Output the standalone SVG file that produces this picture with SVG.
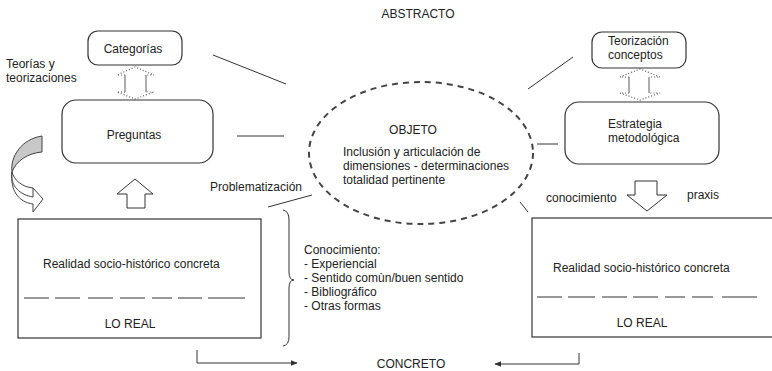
<svg xmlns="http://www.w3.org/2000/svg" width="772" height="371" viewBox="0 0 772 371">
<style>
text{font-family:"Liberation Sans",Arial,sans-serif;font-size:12px;fill:#222}
.c{text-anchor:middle}
.box{fill:#fff;stroke:#333;stroke-width:1.2}
.ln{stroke:#333;stroke-width:1;fill:none}
.dot{stroke:#555;stroke-width:1.2;stroke-dasharray:1 2;fill:none}
.shaft{stroke:#777;stroke-width:1.2;fill:none}
.blk{fill:#fff;stroke:#333;stroke-width:1}
.dash{stroke:#333;stroke-width:1}
</style>
<defs>
<marker id="ah" viewBox="0 0 10 10" refX="9" refY="5" markerWidth="7" markerHeight="7" orient="auto"><path d="M0,1 L10,5 L0,9 Z" fill="#333"/></marker>
</defs>
<rect width="772" height="371" fill="#fff"/>

<text class="c" x="418" y="18">ABSTRACTO</text>
<text class="c" x="411" y="368">CONCRETO</text>

<g id="teorias-label">
<text x="6" y="68">Teorías y</text>
<text x="6" y="82">teorizaciones</text>
</g>

<g id="categorias">
<rect class="box" x="88" y="31" width="94" height="34" rx="10"/>
<text class="c" x="133" y="53">Categorías</text>
</g>

<g id="preguntas">
<rect class="box" x="62" y="100" width="151" height="63" rx="14"/>
<text class="c" x="134" y="139">Preguntas</text>
</g>

<g id="teorizacion">
<rect class="box" x="592" y="32" width="94" height="36" rx="10"/>
<text x="608" y="45">Teorización</text>
<text x="608" y="59">conceptos</text>
</g>

<g id="estrategia">
<rect class="box" x="565" y="102" width="154" height="62" rx="14"/>
<text x="608" y="128">Estrategia</text>
<text x="608" y="142">metodológica</text>
</g>

<g id="objeto">
<ellipse cx="421" cy="153" rx="112" ry="71" fill="#fff" stroke="#444" stroke-width="2" stroke-dasharray="6 5"/>
<text class="c" x="413" y="134">OBJETO</text>
<text x="343" y="156">Inclusión y articulación de</text>
<text x="343" y="170">dimensiones - determinaciones</text>
<text x="343" y="184">totalidad pertinente</text>
</g>

<g id="realidad-izq">
<rect class="box" x="18" y="219" width="243" height="119"/>
<text x="43" y="268">Realidad socio-histórico concreta</text>
<path class="dash" d="M24,298H49M55,298H80M88,298H113M120,298H145M152,298H172M178,298H202M208,298H245"/>
<text class="c" x="130" y="328">LO REAL</text>
</g>

<g id="realidad-der">
<rect class="box" x="532" y="218" width="245" height="119"/>
<text x="553" y="272">Realidad socio-histórico concreta</text>
<path class="dash" d="M537,297H562M568,297H595M602,297H627M633,297H658M665,297H685M692,297H713M722,297H757"/>
<text class="c" x="642" y="327">LO REAL</text>
</g>

<g id="conocimiento-lista">
<text x="304" y="254">Conocimiento:</text>
<text x="304" y="268">- Experiencial</text>
<text x="304" y="282">- Sentido comùn/buen sentido</text>
<text x="304" y="296">- Bibliográfico</text>
<text x="304" y="310">- Otras formas</text>
</g>

<g id="labels">
<text x="210" y="191">Problematización</text>
<text x="546" y="202">conocimiento</text>
<text x="687" y="199">praxis</text>
</g>

<g id="connectors">
<line class="ln" x1="213" y1="55" x2="286" y2="84"/>
<line class="ln" x1="237" y1="136" x2="284" y2="136"/>
<line class="ln" x1="528" y1="89" x2="573" y2="57"/>
<line class="ln" x1="537" y1="144" x2="558" y2="144"/>
<line class="ln" x1="268" y1="207" x2="312" y2="195"/>
<line class="ln" x1="520" y1="202" x2="528" y2="212"/>
<path class="ln" d="M283,210 Q289,211 289,220 L289,272 Q289,280 294,280 Q289,280 289,288 L289,337 Q289,345 283,346"/>
<path class="ln" d="M197,350 V363 H297" marker-end="url(#ah)" stroke-width="1.2"/>
<path class="ln" d="M579,353 V364 H495" marker-end="url(#ah)" stroke-width="1.2"/>

<!-- dotted double arrows -->
<path class="dot" d="M125,75 H117 L135,67 L154,75 H146"/>
<path class="dot" d="M125,92 H117 L135,99 L154,92 H146"/>
<path class="shaft" d="M125,75 V92 M146,75 V92"/>
<path class="dot" d="M629,77 H620 L640,69 L660,77 H649"/>
<path class="dot" d="M629,93 H620 L640,100 L660,93 H649"/>
<path class="shaft" d="M629,77 V93 M649,77 V93"/>

<!-- block arrows -->
<path class="blk" d="M135,179 L153,194 H145 V208 H127 V194 H117 Z"/>
<path class="blk" d="M635,181 H657 V195 H667 L647,211 L627,195 H635 Z"/>

<!-- curved arrow -->
<path d="M42,136 L42,152 C28,153 16,161 12,172 C10,156 22,139 42,136 Z" fill="#c8c8c8" stroke="#444" stroke-width="1"/>
<path d="M12,172 C10,186 20,195 33,197 L33,188 L43,199 L33,212 L33,204 C18,202 10,190 12,172 Z M12,172 C14,180 22,187 33,188" fill="#fff" stroke="#444" stroke-width="1"/>
</g>
</svg>
